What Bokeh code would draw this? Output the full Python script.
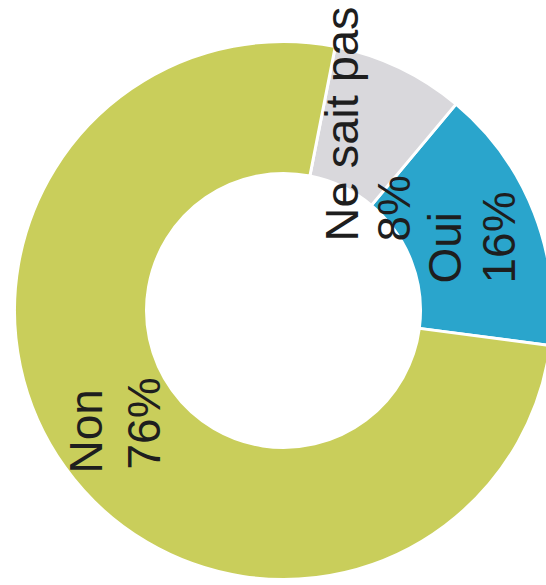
import math
from bokeh.plotting import figure
from bokeh.models import ColumnDataSource, Range1d
from bokeh.core.properties import value
from bokeh.embed import file_html
from bokeh.resources import INLINE

# ---- data ----
categories = ["Oui", "Ne sait pas", "Non"]
values = [16, 8, 76]
pct_labels = ["16%", "8%", "76%"]
colors = ["#2aa5cc", "#d9d8dc", "#c9ce5b"]

# ---- layout constants (page pixels -> data: x = px, y = H - py) ----
W, H = 546, 585
CX, CY = 283, H - 310
R_OUT, R_IN = 269, 137
START_DEG = -7.5

total = float(sum(values))
starts, ends = [], []
a = math.radians(START_DEG)
for v in values:
    starts.append(a)
    a += 2 * math.pi * v / total
    ends.append(a)

src = ColumnDataSource(dict(start=starts, end=ends, color=colors, cat=categories))

p = figure(width=W, height=H, x_range=Range1d(0, W), y_range=Range1d(0, H),
           output_backend="svg", toolbar_location=None, min_border=0)
p.axis.visible = False
p.grid.visible = False
p.outline_line_color = None
p.background_fill_color = "white"
p.border_fill_color = "white"

p.annular_wedge(x=CX, y=CY, inner_radius=R_IN, outer_radius=R_OUT,
                start_angle="start", end_angle="end", fill_color="color",
                line_color="white", line_width=3, source=src)

# label anchors (x of glyph centre line, start y in page pixels), text rotated 90 degrees
name_pos = {"Oui": (444, 283), "Ne sait pas": (341, 241), "Non": (85, 473)}
pct_pos = {"Oui": (498, 283), "Ne sait pas": (393, 241), "Non": (143, 469)}
name_size = {"Oui": "46px", "Ne sait pas": "47px", "Non": "46px"}

tx, ty, tt, ts = [], [], [], []
for c, pl in zip(categories, pct_labels):
    bx, by = name_pos[c]
    tx.append(bx); ty.append(H - by); tt.append(c); ts.append(name_size[c])
    bx, by = pct_pos[c]
    tx.append(bx); ty.append(H - by); tt.append(pl); ts.append("46px")

lbl = ColumnDataSource(dict(x=tx, y=ty, text=tt, size=ts))
p.text(x="x", y="y", text="text", text_font_size="size", angle=math.pi / 2,
       text_font=value("Liberation Sans"),
       text_align="left", text_baseline="alphabetic", text_color="#1e1e1e",
       source=lbl)

open("out.html", "w").write(file_html(p, INLINE))
